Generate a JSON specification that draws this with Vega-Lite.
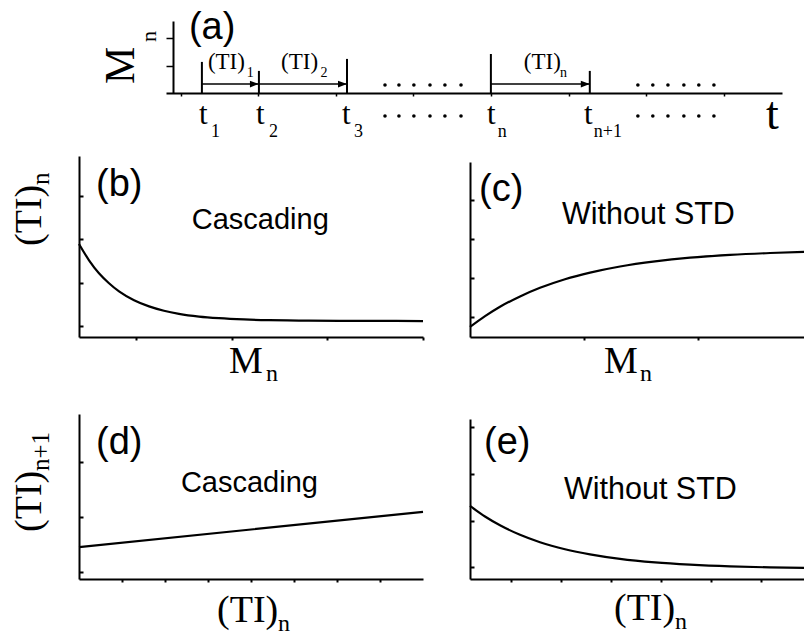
{
 "$schema": "https://vega.github.io/schema/vega-lite/v6.json",
 "padding": {"left": 10, "top": 9, "right": 0, "bottom": 0},
 "background": "white",
 "config": {
   "view": {"stroke": null},
   "axis": {"grid": false, "labels": false, "domainColor": "black", "domainWidth": 2, "tickColor": "black", "tickWidth": 2},
   "text": {"color": "black", "align": "left", "baseline": "alphabetic"}
 },
 "datasets": {
   "aMarks": [{"x":1.49,"base":0,"top":1.14},{"x":4.43,"base":0,"top":0.81},{"x":8.97,"base":0,"top":1.25},{"x":16.39,"base":0,"top":1.43},{"x":21.49,"base":0,"top":0.81}],
   "aArrows": [{"from":1.49,"to":4.43,"y":0.33},{"from":4.43,"to":8.97,"y":0.33},{"from":16.39,"to":21.49,"y":0.33}],
   "aDots": [{"x":10.93,"y":0.293},{"x":11.65,"y":0.293},{"x":12.42,"y":0.293},{"x":13.25,"y":0.293},{"x":14.02,"y":0.293},{"x":14.85,"y":0.293},
             {"x":10.93,"y":-0.843},{"x":11.65,"y":-0.843},{"x":12.42,"y":-0.843},{"x":13.25,"y":-0.843},{"x":14.02,"y":-0.843},{"x":14.85,"y":-0.843},
             {"x":23.97,"y":0.293},{"x":24.74,"y":0.293},{"x":25.52,"y":0.293},{"x":26.34,"y":0.293},{"x":27.11,"y":0.293},{"x":27.89,"y":0.293},
             {"x":23.97,"y":-0.843},{"x":24.74,"y":-0.843},{"x":25.52,"y":-0.843},{"x":26.34,"y":-0.843},{"x":27.11,"y":-0.843},{"x":27.89,"y":-0.843}],
   "aText": [
     {"x":0.82,"y":1.98,"text":"(a)","role":"tag"},
     {"x":1.80,"y":0.88,"text":"(TI)","role":"small"},{"x":3.80,"y":0.59,"text":"1","role":"smallsub"},
     {"x":5.57,"y":0.88,"text":"(TI)","role":"small"},{"x":7.60,"y":0.59,"text":"2","role":"smallsub"},
     {"x":18.09,"y":0.88,"text":"(TI)","role":"small"},{"x":19.95,"y":0.59,"text":"n","role":"smallsub"},
     {"x":1.34,"y":-1.14,"text":"t","role":"t"},{"x":1.96,"y":-1.61,"text":"1","role":"tsub"},
     {"x":4.28,"y":-1.14,"text":"t","role":"t"},{"x":4.95,"y":-1.61,"text":"2","role":"tsub"},
     {"x":8.71,"y":-1.14,"text":"t","role":"t"},{"x":9.33,"y":-1.61,"text":"3","role":"tsub"},
     {"x":16.19,"y":-1.14,"text":"t","role":"t"},{"x":16.75,"y":-1.61,"text":"n","role":"tsub"},
     {"x":21.19,"y":-1.14,"text":"t","role":"t"},{"x":21.70,"y":-1.61,"text":"n+1","role":"tsub"},
     {"x":30.57,"y":-1.32,"text":"t","role":"bigt"},
     {"x":-2.01,"y":0.33,"text":"M","role":"Mrot"},{"x":-0.88,"y":1.87,"text":"n","role":"nrot"}
   ],
   "bCurve": [{"x":0,"y":5.14},{"x":0.105,"y":4.24},{"x":0.209,"y":3.52},{"x":0.314,"y":2.97},{"x":0.419,"y":2.52},{"x":0.576,"y":2.03},{"x":0.733,"y":1.69},{"x":0.889,"y":1.45},{"x":1.046,"y":1.28},{"x":1.256,"y":1.13},{"x":1.465,"y":1.04},{"x":1.727,"y":0.97},{"x":1.988,"y":0.93},{"x":2.302,"y":0.91},{"x":2.721,"y":0.89},{"x":3.139,"y":0.89},{"x":3.6,"y":0.88}],
   "bText": [
     {"x":0.178,"y":7.79,"text":"(b)","role":"tag"},
     {"x":1.18,"y":5.97,"text":"Cascading","role":"note"},
     {"x":1.57,"y":-1.99,"text":"M","role":"lab"},{"x":1.957,"y":-2.43,"text":"n","role":"labsub"},
     {"x":-0.398,"y":5.03,"text":"(TI)","role":"labR"},{"x":-0.314,"y":8.4,"text":"n","role":"labsubR"}
   ],
   "cCurve": [{"x":0,"y":0.513},{"x":0.132,"y":1.067},{"x":0.263,"y":1.549},{"x":0.439,"y":2.082},{"x":0.614,"y":2.523},{"x":0.833,"y":2.964},{"x":1.053,"y":3.303},{"x":1.316,"y":3.615},{"x":1.623,"y":3.877},{"x":1.93,"y":4.067},{"x":2.281,"y":4.21},{"x":2.632,"y":4.308},{"x":2.982,"y":4.374}],
   "cText": [
     {"x":0.079,"y":6.97,"text":"(c)","role":"tag"},
     {"x":0.807,"y":5.79,"text":"Without STD","role":"noteW"},
     {"x":1.175,"y":-1.846,"text":"M","role":"lab"},{"x":1.49,"y":-2.256,"text":"n","role":"labsub"}
   ],
   "dLine": [{"x":0,"y":4.65},{"x":4,"y":7.2},{"x":8,"y":9.75}],
   "dText": [
     {"x":0.395,"y":18.2,"text":"(d)","role":"tag"},
     {"x":2.37,"y":12.65,"text":"Cascading","role":"note"},
     {"x":3.21,"y":-6.25,"text":"(TI)","role":"lab"},{"x":4.63,"y":-7.56,"text":"n","role":"labsub"},
     {"x":-0.884,"y":6.84,"text":"(TI)","role":"labR"},{"x":-0.698,"y":15.7,"text":"n+1","role":"labsubR"}
   ],
   "eCurve": [{"x":0,"y":10.62},{"x":0.3,"y":9.09},{"x":0.6,"y":7.81},{"x":1.0,"y":6.43},{"x":1.4,"y":5.35},{"x":1.9,"y":4.33},{"x":2.4,"y":3.58},{"x":3.0,"y":2.92},{"x":3.7,"y":2.41},{"x":4.4,"y":2.08},{"x":5.2,"y":1.83},{"x":6.0,"y":1.69},{"x":6.8,"y":1.6}],
   "eText": [
     {"x":0.28,"y":18.18,"text":"(e)","role":"tag"},
     {"x":1.88,"y":11.64,"text":"Without STD","role":"noteW"},
     {"x":2.88,"y":-5.96,"text":"(TI)","role":"lab"},{"x":4.1,"y":-7.27,"text":"n","role":"labsub"}
   ]
 },
 "columns": 2,
 "spacing": {"row": 63, "column": 47},
 "bounds": "flush",
 "concat": [
   {"width": 344, "height": 72,
    "layer": [
      {"data": {"name": "aMarks"}, "mark": {"type": "rule", "color": "black", "strokeWidth": 2},
       "encoding": {
         "x": {"field": "x", "type": "quantitative", "title": null, "scale": {"domain": [-0.361, 31.4], "range": [87, 703], "nice": false, "zero": false},
               "axis": {"values": [0.4,1.4,2.4,3.4,4.4,5.4,6.4,7.4,8.4,9.4,10.4,11.4,12.4,13.4,14.4,15.4,16.4,17.4,18.4,19.4,20.4,21.4,22.4,23.4,24.4,25.4,26.4,27.4,28.4,29.4,30.4], "tickSize": 3, "tickWidth": 1.5}},
         "y": {"field": "base", "type": "quantitative", "title": null, "scale": {"domain": [0, 2.64], "nice": false, "zero": false},
               "axis": {"values": [1, 2], "tickSize": 7, "tickWidth": 1.5, "offset": -94}},
         "y2": {"field": "top"}
       }},
      {"data": {"name": "aArrows"}, "mark": {"type": "rule", "color": "black", "strokeWidth": 1.5},
       "encoding": {"x": {"field": "from", "type": "quantitative", "title": null}, "x2": {"field": "to"}, "y": {"field": "y", "type": "quantitative", "title": null}}},
      {"data": {"name": "aArrows"}, "mark": {"type": "point", "shape": "M -2 -0.75 L 0 0 L -2 0.75 Z", "size": 81, "filled": true, "color": "black", "opacity": 1, "strokeWidth": 0},
       "encoding": {"x": {"field": "to", "type": "quantitative", "title": null}, "y": {"field": "y", "type": "quantitative", "title": null}}},
      {"data": {"name": "aDots"}, "mark": {"type": "point", "shape": "circle", "size": 13, "filled": true, "color": "black", "opacity": 1},
       "encoding": {"x": {"field": "x", "type": "quantitative", "title": null}, "y": {"field": "y", "type": "quantitative", "title": null}}},
      {"data": {"name": "aText"},
       "encoding": {"x": {"field": "x", "type": "quantitative", "title": null}, "y": {"field": "y", "type": "quantitative", "title": null}, "text": {"field": "text", "type": "nominal"}},
       "layer": [
         {"transform": [{"filter": "datum.role === 'tag'"}], "mark": {"type": "text", "font": "Liberation Sans", "fontSize": 38}},
         {"transform": [{"filter": "datum.role === 'small'"}], "mark": {"type": "text", "font": "Liberation Serif", "fontSize": 23}},
         {"transform": [{"filter": "datum.role === 'smallsub'"}], "mark": {"type": "text", "font": "Liberation Serif", "fontSize": 14}},
         {"transform": [{"filter": "datum.role === 't'"}], "mark": {"type": "text", "font": "Liberation Serif", "fontSize": 31}},
         {"transform": [{"filter": "datum.role === 'tsub'"}], "mark": {"type": "text", "font": "Liberation Serif", "fontSize": 18}},
         {"transform": [{"filter": "datum.role === 'bigt'"}], "mark": {"type": "text", "font": "Liberation Serif", "fontSize": 46}},
         {"transform": [{"filter": "datum.role === 'Mrot'"}], "mark": {"type": "text", "font": "Liberation Serif", "fontSize": 42, "angle": 270}},
         {"transform": [{"filter": "datum.role === 'nrot'"}], "mark": {"type": "text", "font": "Liberation Serif", "fontSize": 22, "angle": 270}}
       ]}
    ]},
   {"width": 1, "height": 1, "data": {"values": [{"x": 0, "y": 0}]}, "mark": {"type": "point", "opacity": 0},
    "encoding": {"x": {"field": "x", "type": "quantitative", "axis": null}, "y": {"field": "y", "type": "quantitative", "axis": null}}},
   {"width": 344, "height": 181,
    "layer": [
      {"data": {"name": "bCurve"}, "mark": {"type": "line", "color": "black", "strokeWidth": 2.2, "interpolate": "monotone"},
       "encoding": {
         "x": {"field": "x", "type": "quantitative", "title": null, "scale": {"domain": [0, 3.6], "nice": false, "zero": false}, "axis": {"values": [0.6, 1.6, 2.6, 3.6], "tickSize": 3}},
         "y": {"field": "y", "type": "quantitative", "title": null, "scale": {"domain": [0, 10], "nice": false, "zero": false}, "axis": {"values": [0.6,1.2,1.8,2.4,3.0,3.6,4.2,4.8,5.4,6.0,6.6,7.2,7.8,8.4,9.0,9.6], "tickSize": -4}}
       }},
      {"data": {"name": "bText"},
       "encoding": {"x": {"field": "x", "type": "quantitative", "title": null}, "y": {"field": "y", "type": "quantitative", "title": null}, "text": {"field": "text", "type": "nominal"}},
       "layer": [
         {"transform": [{"filter": "datum.role === 'tag'"}], "mark": {"type": "text", "font": "Liberation Sans", "fontSize": 38}},
         {"transform": [{"filter": "datum.role === 'note'"}], "mark": {"type": "text", "font": "Liberation Sans", "fontSize": 29}},
         {"transform": [{"filter": "datum.role === 'lab'"}], "mark": {"type": "text", "font": "Liberation Serif", "fontSize": 38}},
         {"transform": [{"filter": "datum.role === 'labsub'"}], "mark": {"type": "text", "font": "Liberation Serif", "fontSize": 24}},
         {"transform": [{"filter": "datum.role === 'labR'"}], "mark": {"type": "text", "font": "Liberation Serif", "fontSize": 38, "angle": 270}},
         {"transform": [{"filter": "datum.role === 'labsubR'"}], "mark": {"type": "text", "font": "Liberation Serif", "fontSize": 25, "angle": 270}}
       ]}
    ]},
   {"width": 340, "height": 181,
    "layer": [
      {"data": {"name": "cCurve"}, "mark": {"type": "line", "color": "black", "strokeWidth": 2.2, "interpolate": "monotone"},
       "encoding": {
         "x": {"field": "x", "type": "quantitative", "title": null, "scale": {"domain": [0, 2.982], "nice": false, "zero": false}, "axis": {"values": [1, 2], "tickSize": 3}},
         "y": {"field": "y", "type": "quantitative", "title": null, "scale": {"domain": [0, 8.974], "range": [181, 6], "nice": false, "zero": false}, "axis": {"values": [1,2,3,4,5,6,7,8], "tickSize": -4}}
       }},
      {"data": {"name": "cText"},
       "encoding": {"x": {"field": "x", "type": "quantitative", "title": null}, "y": {"field": "y", "type": "quantitative", "title": null}, "text": {"field": "text", "type": "nominal"}},
       "layer": [
         {"transform": [{"filter": "datum.role === 'tag'"}], "mark": {"type": "text", "font": "Liberation Sans", "fontSize": 38}},
         {"transform": [{"filter": "datum.role === 'noteW'"}], "mark": {"type": "text", "font": "Liberation Sans", "fontSize": 30.5}},
         {"transform": [{"filter": "datum.role === 'lab'"}], "mark": {"type": "text", "font": "Liberation Serif", "fontSize": 38}},
         {"transform": [{"filter": "datum.role === 'labsub'"}], "mark": {"type": "text", "font": "Liberation Serif", "fontSize": 24}}
       ]}
    ]},
   {"width": 344, "height": 179,
    "layer": [
      {"data": {"name": "dLine"}, "mark": {"type": "line", "color": "black", "strokeWidth": 2.2},
       "encoding": {
         "x": {"field": "x", "type": "quantitative", "title": null, "scale": {"domain": [0, 8], "nice": false, "zero": false}, "axis": {"values": [1,2,3,4,5,6,7], "tickSize": 3}},
         "y": {"field": "y", "type": "quantitative", "title": null, "scale": {"domain": [0, 24], "range": [179, 14], "nice": false, "zero": false}, "axis": {"values": [1,2,3,4,5,6,7,8,9,10,11,12,13,14,15,16,17,18,19,20,21,22,23], "tickSize": -4}}
       }},
      {"data": {"name": "dText"},
       "encoding": {"x": {"field": "x", "type": "quantitative", "title": null}, "y": {"field": "y", "type": "quantitative", "title": null}, "text": {"field": "text", "type": "nominal"}},
       "layer": [
         {"transform": [{"filter": "datum.role === 'tag'"}], "mark": {"type": "text", "font": "Liberation Sans", "fontSize": 38}},
         {"transform": [{"filter": "datum.role === 'note'"}], "mark": {"type": "text", "font": "Liberation Sans", "fontSize": 29}},
         {"transform": [{"filter": "datum.role === 'lab'"}], "mark": {"type": "text", "font": "Liberation Serif", "fontSize": 38}},
         {"transform": [{"filter": "datum.role === 'labsub'"}], "mark": {"type": "text", "font": "Liberation Serif", "fontSize": 24}},
         {"transform": [{"filter": "datum.role === 'labR'"}], "mark": {"type": "text", "font": "Liberation Serif", "fontSize": 38, "angle": 270}},
         {"transform": [{"filter": "datum.role === 'labsubR'"}], "mark": {"type": "text", "font": "Liberation Serif", "fontSize": 25, "angle": 270}}
       ]}
    ]},
   {"width": 340, "height": 179,
    "layer": [
      {"data": {"name": "eCurve"}, "mark": {"type": "line", "color": "black", "strokeWidth": 2.2, "interpolate": "monotone"},
       "encoding": {
         "x": {"field": "x", "type": "quantitative", "title": null, "scale": {"domain": [0, 6.8], "nice": false, "zero": false}, "axis": {"values": [0.82,1.82,2.82,3.82,4.82,5.82], "tickSize": 3}},
         "y": {"field": "y", "type": "quantitative", "title": null, "scale": {"domain": [0, 23.27], "range": [179, 19], "nice": false, "zero": false}, "axis": {"values": [1.7,3.4,5.1,6.8,8.5,10.2,11.9,13.6,15.3,17,18.7,20.4,22.1], "tickSize": -4}}
       }},
      {"data": {"name": "eText"},
       "encoding": {"x": {"field": "x", "type": "quantitative", "title": null}, "y": {"field": "y", "type": "quantitative", "title": null}, "text": {"field": "text", "type": "nominal"}},
       "layer": [
         {"transform": [{"filter": "datum.role === 'tag'"}], "mark": {"type": "text", "font": "Liberation Sans", "fontSize": 38}},
         {"transform": [{"filter": "datum.role === 'noteW'"}], "mark": {"type": "text", "font": "Liberation Sans", "fontSize": 30.5}},
         {"transform": [{"filter": "datum.role === 'lab'"}], "mark": {"type": "text", "font": "Liberation Serif", "fontSize": 38}},
         {"transform": [{"filter": "datum.role === 'labsub'"}], "mark": {"type": "text", "font": "Liberation Serif", "fontSize": 24}}
       ]}
    ]}
 ]
}
